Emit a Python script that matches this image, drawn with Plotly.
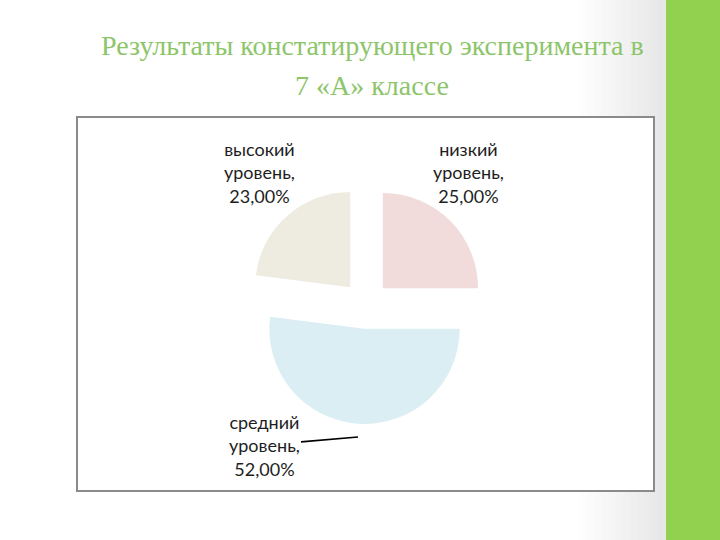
import plotly.graph_objects as go

# ---- data ----
levels = ["низкий уровень", "средний уровень", "высокий уровень"]
label_lines = ["низкий<br>уровень", "средний<br>уровень", "высокий<br>уровень"]
shares = [25.0, 52.0, 23.0]
colors = ["#F2DCDB", "#DBEEF3", "#EEECE1"]
title_lines = ["Результаты констатирующего эксперимента в", "7 «А» классе"]

W, H = 720, 540
def px(x):
    return x / W
def py(y):
    return 1 - y / H

fig = go.Figure()

fig.add_trace(go.Pie(
    labels=levels,
    values=shares,
    sort=False,
    direction="clockwise",
    rotation=0,
    pull=[0.25, 0.25, 0.25],
    marker=dict(colors=colors, line=dict(width=0)),
    textinfo="none",
    hoverinfo="label+percent",
    showlegend=False,
    domain=dict(x=[px(366 - 119), px(366 + 119)], y=[py(305 + 119), py(305 - 119)]),
))

# slide decoration: faint grey gradient toward the green bar
n = 12
for i in range(n):
    x0 = 580 + i * (86 / n)
    fig.add_shape(type="rect", xref="paper", yref="paper",
                  x0=px(x0), x1=px(666), y0=0, y1=1,
                  fillcolor="rgba(190,190,190,0.022)", line=dict(width=0), layer="below")

fig.add_shape(type="rect", xref="paper", yref="paper",
              x0=px(666), x1=1, y0=0, y1=1,
              fillcolor="#92D050", line=dict(width=0))

# chart frame
fig.add_shape(type="rect", xref="paper", yref="paper",
              x0=px(77), x1=px(654), y0=py(491), y1=py(117),
              fillcolor="white", line=dict(color="#8a8a8a", width=2), layer="below")

# title
title_font = dict(family="Times New Roman, Liberation Serif, serif", size=28, color="#8DC56B")
fig.add_annotation(text=title_lines[0], xref="paper", yref="paper",
                   x=px(372), y=py(45), xanchor="center", yanchor="middle",
                   showarrow=False, font=title_font)
fig.add_annotation(text=title_lines[1], xref="paper", yref="paper",
                   x=px(372), y=py(85), xanchor="center", yanchor="middle",
                   showarrow=False, font=title_font)

# slice labels
lab_font = dict(family="Lato", size=18, color="#1e1e1e")
def lab(i):
    return f"{label_lines[i]},<br>{shares[i]:.2f}%".replace(".", ",")

fig.add_annotation(text=lab(0), xref="paper", yref="paper", x=px(468), y=py(172),
                   xanchor="center", yanchor="middle",
                   showarrow=False, align="center", font=lab_font)
fig.add_annotation(text=lab(2), xref="paper", yref="paper", x=px(259), y=py(172),
                   xanchor="center", yanchor="middle",
                   showarrow=False, align="center", font=lab_font)
fig.add_annotation(text=lab(1), xref="paper", yref="paper", x=px(358), y=py(437),
                   ax=264 - 358, ay=445 - 437, axref="pixel", ayref="pixel",
                   showarrow=True, arrowhead=0, arrowwidth=1.6, arrowcolor="#000000",
                   standoff=0, align="center", font=lab_font)

fig.update_layout(
    width=W, height=H,
    margin=dict(l=0, r=0, t=0, b=0),
    paper_bgcolor="white",
    plot_bgcolor="white",
    separators=", ",
)

fig.write_html("out.html")
